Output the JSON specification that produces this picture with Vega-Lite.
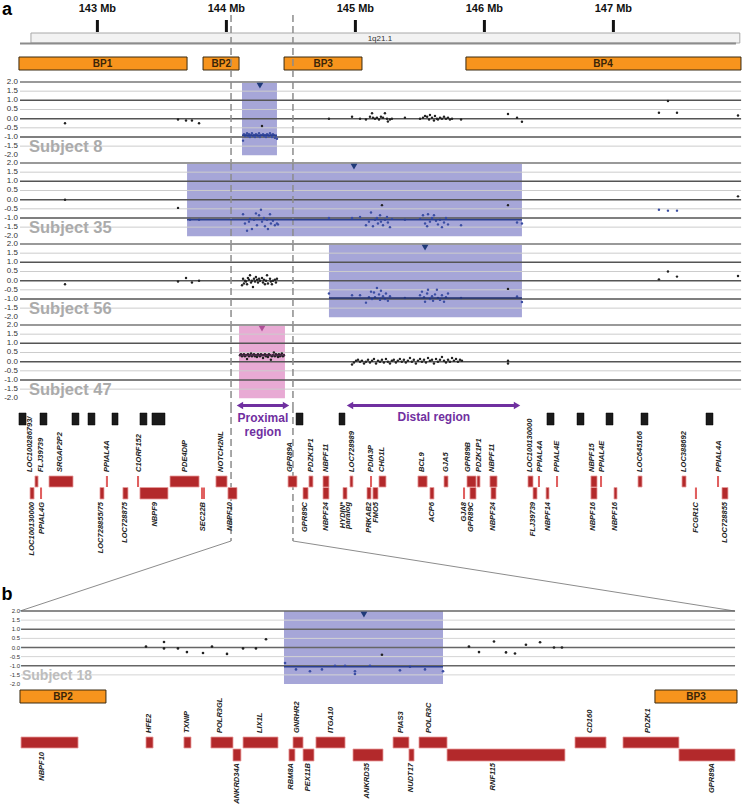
{
"$schema":"https://vega.github.io/schema/vega-lite/v6.json",
"padding":0,"spacing":0,"bounds":"flush","background":"white",
"config":{"view":{"stroke":null},"text":{"font":"Liberation Sans"}},
"resolve":{"scale":{"x":"independent","y":"independent"}},
"datasets":{
"grid":[{"v":2,"k":"top"},{"v":1.5,"k":"minor"},{"v":1,"k":"major"},{"v":0.5,"k":"minor"},{"v":0,"k":"major"},{"v":-0.5,"k":"minor"},{"v":-1,"k":"major"},{"v":-1.5,"k":"minor"}],
"ylabs":[{"v":2,"t":"2.0"},{"v":1.5,"t":"1.5"},{"v":1,"t":"1.0"},{"v":0.5,"t":"0.5"},{"v":0,"t":"0.0"},{"v":-0.5,"t":"-0.5"},{"v":-1,"t":"-1.0"},{"v":-1.5,"t":"-1.5"},{"v":-2,"t":"-2.0"}],
"dash":[{"x":144.036},{"x":144.516}],
"segs":[{"s":"8","start":144.121,"end":144.392,"mean":-0.9,"tri":144.26},{"s":"35","start":143.695,"end":146.291,"mean":-1.1,"tri":144.989},{"s":"56","start":144.795,"end":146.291,"mean":-0.95,"tri":145.54},{"s":"47","start":144.098,"end":144.454,"mean":0.35,"tri":144.276},{"s":"18","start":144.216,"end":144.322,"mean":-1.05,"tri":144.2693}],
"pts":[
{"s":"8","x":142.749,"v":-0.25,"c":"n"},{"s":"8","x":143.625,"v":-0.05,"c":"n"},{"s":"8","x":143.687,"v":-0.1,"c":"n"},{"s":"8","x":143.733,"v":-0.1,"c":"n"},{"s":"8","x":143.788,"v":-0.25,"c":"n"},
{"s":"8","x":144.129,"v":-1.2,"c":"a"},{"s":"8","x":144.136,"v":-0.85,"c":"a"},{"s":"8","x":144.144,"v":-0.95,"c":"a"},{"s":"8","x":144.152,"v":-0.9,"c":"a"},{"s":"8","x":144.16,"v":-0.8,"c":"a"},{"s":"8","x":144.167,"v":-0.95,"c":"a"},{"s":"8","x":144.175,"v":-0.85,"c":"a"},{"s":"8","x":144.183,"v":-1.0,"c":"a"},{"s":"8","x":144.191,"v":-0.9,"c":"a"},{"s":"8","x":144.198,"v":-0.8,"c":"a"},{"s":"8","x":144.206,"v":-0.95,"c":"a"},{"s":"8","x":144.214,"v":-0.9,"c":"a"},{"s":"8","x":144.222,"v":-1.0,"c":"a"},{"s":"8","x":144.229,"v":-0.85,"c":"a"},{"s":"8","x":144.237,"v":-0.9,"c":"a"},{"s":"8","x":144.245,"v":-0.95,"c":"a"},{"s":"8","x":144.253,"v":-0.8,"c":"a"},{"s":"8","x":144.26,"v":-1.0,"c":"a"},{"s":"8","x":144.268,"v":-0.9,"c":"a"},{"s":"8","x":144.276,"v":-0.4,"c":"n"},{"s":"8","x":144.284,"v":-0.85,"c":"a"},{"s":"8","x":144.291,"v":-0.95,"c":"a"},{"s":"8","x":144.299,"v":-0.9,"c":"a"},{"s":"8","x":144.307,"v":-1.0,"c":"a"},{"s":"8","x":144.315,"v":-0.85,"c":"a"},{"s":"8","x":144.322,"v":-0.9,"c":"a"},{"s":"8","x":144.33,"v":-0.95,"c":"a"},{"s":"8","x":144.338,"v":-0.8,"c":"a"},{"s":"8","x":144.345,"v":-0.9,"c":"a"},{"s":"8","x":144.353,"v":-1.0,"c":"a"},{"s":"8","x":144.361,"v":-0.85,"c":"a"},{"s":"8","x":144.368,"v":-0.9,"c":"a"},{"s":"8","x":144.376,"v":-1.05,"c":"a"},{"s":"8","x":144.384,"v":-0.95,"c":"a"},{"s":"8","x":144.392,"v":-1.1,"c":"a"},
{"s":"8","x":144.795,"v":0.0,"c":"n"},{"s":"8","x":144.974,"v":0.1,"c":"n"},{"s":"8","x":145.036,"v":0.0,"c":"n"},{"s":"8","x":145.082,"v":-0.05,"c":"n"},{"s":"8","x":145.113,"v":0.1,"c":"n"},{"s":"8","x":145.129,"v":0.3,"c":"n"},{"s":"8","x":145.136,"v":0.05,"c":"n"},{"s":"8","x":145.152,"v":0.0,"c":"n"},{"s":"8","x":145.167,"v":0.05,"c":"n"},{"s":"8","x":145.183,"v":-0.05,"c":"n"},{"s":"8","x":145.198,"v":0.1,"c":"n"},{"s":"8","x":145.214,"v":0.05,"c":"n"},{"s":"8","x":145.229,"v":0.3,"c":"n"},{"s":"8","x":145.245,"v":0.0,"c":"n"},{"s":"8","x":145.252,"v":-0.15,"c":"n"},{"s":"8","x":145.268,"v":-0.05,"c":"n"},{"s":"8","x":145.283,"v":0.0,"c":"n"},{"s":"8","x":145.384,"v":0.05,"c":"n"},{"s":"8","x":145.501,"v":0.0,"c":"n"},{"s":"8","x":145.524,"v":0.05,"c":"n"},{"s":"8","x":145.54,"v":0.15,"c":"n"},{"s":"8","x":145.556,"v":0.1,"c":"n"},{"s":"8","x":145.571,"v":-0.05,"c":"n"},{"s":"8","x":145.578,"v":0.2,"c":"n"},{"s":"8","x":145.594,"v":0.05,"c":"n"},{"s":"8","x":145.609,"v":-0.1,"c":"n"},{"s":"8","x":145.617,"v":0.15,"c":"n"},{"s":"8","x":145.632,"v":0.0,"c":"n"},{"s":"8","x":145.64,"v":-0.05,"c":"n"},{"s":"8","x":145.656,"v":0.05,"c":"n"},{"s":"8","x":145.671,"v":0.0,"c":"n"},{"s":"8","x":145.687,"v":0.1,"c":"n"},{"s":"8","x":145.702,"v":0.0,"c":"n"},{"s":"8","x":145.718,"v":0.05,"c":"n"},{"s":"8","x":145.733,"v":-0.05,"c":"n"},{"s":"8","x":145.749,"v":0.0,"c":"n"},{"s":"8","x":145.819,"v":-0.05,"c":"n"},{"s":"8","x":146.183,"v":0.25,"c":"n"},{"s":"8","x":146.253,"v":0.05,"c":"n"},{"s":"8","x":146.291,"v":-0.17,"c":"n"},{"s":"8","x":147.353,"v":0.32,"c":"n"},{"s":"8","x":147.423,"v":0.96,"c":"n"},{"s":"8","x":147.493,"v":0.32,"c":"n"},{"s":"8","x":147.966,"v":0.17,"c":"n"},
{"s":"35","x":142.749,"v":0.0,"c":"n"},{"s":"35","x":143.625,"v":-0.45,"c":"n"},{"s":"35","x":143.718,"v":-1.1,"c":"a"},{"s":"35","x":143.788,"v":-1.1,"c":"a"},
{"s":"35","x":144.129,"v":-0.8,"c":"a"},{"s":"35","x":144.144,"v":-1.3,"c":"a"},{"s":"35","x":144.16,"v":-1.7,"c":"a"},{"s":"35","x":144.175,"v":-1.2,"c":"a"},{"s":"35","x":144.183,"v":-1.05,"c":"a"},{"s":"35","x":144.198,"v":-1.6,"c":"a"},{"s":"35","x":144.214,"v":-1.1,"c":"a"},{"s":"35","x":144.229,"v":-0.75,"c":"a"},{"s":"35","x":144.237,"v":-1.4,"c":"a"},{"s":"35","x":144.253,"v":-0.85,"c":"a"},{"s":"35","x":144.268,"v":-0.55,"c":"a"},{"s":"35","x":144.276,"v":-1.2,"c":"a"},{"s":"35","x":144.291,"v":-1.0,"c":"a"},{"s":"35","x":144.299,"v":-1.45,"c":"a"},{"s":"35","x":144.315,"v":-1.1,"c":"a"},{"s":"35","x":144.322,"v":-1.6,"c":"a"},{"s":"35","x":144.338,"v":-0.8,"c":"a"},{"s":"35","x":144.345,"v":-1.3,"c":"a"},{"s":"35","x":144.361,"v":-1.15,"c":"a"},{"s":"35","x":144.376,"v":-1.4,"c":"a"},{"s":"35","x":144.392,"v":-1.3,"c":"a"},{"s":"35","x":144.4,"v":-1.35,"c":"a"},
{"s":"35","x":144.795,"v":-1.0,"c":"a"},{"s":"35","x":144.974,"v":-1.0,"c":"a"},{"s":"35","x":145.036,"v":-0.95,"c":"a"},{"s":"35","x":145.082,"v":-1.4,"c":"a"},{"s":"35","x":145.105,"v":-1.2,"c":"a"},{"s":"35","x":145.121,"v":-0.7,"c":"a"},{"s":"35","x":145.136,"v":-1.45,"c":"a"},{"s":"35","x":145.152,"v":-1.1,"c":"a"},{"s":"35","x":145.167,"v":-1.0,"c":"a"},{"s":"35","x":145.175,"v":-1.3,"c":"a"},{"s":"35","x":145.191,"v":-0.85,"c":"a"},{"s":"35","x":145.198,"v":-1.2,"c":"a"},{"s":"35","x":145.206,"v":-0.3,"c":"n"},{"s":"35","x":145.214,"v":-1.4,"c":"a"},{"s":"35","x":145.229,"v":-1.1,"c":"a"},{"s":"35","x":145.245,"v":-0.95,"c":"a"},{"s":"35","x":145.252,"v":-1.25,"c":"a"},{"s":"35","x":145.268,"v":-1.5,"c":"a"},{"s":"35","x":145.283,"v":-1.05,"c":"a"},{"s":"35","x":145.384,"v":-1.1,"c":"a"},{"s":"35","x":145.501,"v":-1.05,"c":"a"},{"s":"35","x":145.524,"v":-0.85,"c":"a"},{"s":"35","x":145.54,"v":-1.3,"c":"a"},{"s":"35","x":145.556,"v":-1.45,"c":"a"},{"s":"35","x":145.563,"v":-0.8,"c":"a"},{"s":"35","x":145.578,"v":-1.2,"c":"a"},{"s":"35","x":145.594,"v":-1.0,"c":"a"},{"s":"35","x":145.609,"v":-0.85,"c":"a"},{"s":"35","x":145.625,"v":-1.15,"c":"a"},{"s":"35","x":145.64,"v":-1.35,"c":"a"},{"s":"35","x":145.656,"v":-1.1,"c":"a"},{"s":"35","x":145.671,"v":-1.5,"c":"a"},{"s":"35","x":145.687,"v":-1.25,"c":"a"},{"s":"35","x":145.702,"v":-1.0,"c":"a"},{"s":"35","x":145.718,"v":-1.35,"c":"a"},{"s":"35","x":145.819,"v":-1.4,"c":"a"},{"s":"35","x":146.183,"v":-0.3,"c":"n"},{"s":"35","x":146.253,"v":-1.25,"c":"a"},{"s":"35","x":146.291,"v":-1.3,"c":"a"},{"s":"35","x":147.353,"v":-0.55,"c":"a"},{"s":"35","x":147.423,"v":-0.6,"c":"a"},{"s":"35","x":147.493,"v":-0.6,"c":"a"},{"s":"35","x":147.966,"v":0.18,"c":"n"},
{"s":"56","x":142.749,"v":-0.2,"c":"n"},{"s":"56","x":143.625,"v":-0.05,"c":"n"},{"s":"56","x":143.687,"v":0.15,"c":"n"},{"s":"56","x":143.733,"v":-0.1,"c":"n"},{"s":"56","x":143.788,"v":0.0,"c":"n"},
{"s":"56","x":144.121,"v":-0.25,"c":"n"},{"s":"56","x":144.129,"v":0.1,"c":"n"},{"s":"56","x":144.136,"v":-0.15,"c":"n"},{"s":"56","x":144.144,"v":0.0,"c":"n"},{"s":"56","x":144.152,"v":-0.05,"c":"n"},{"s":"56","x":144.16,"v":-0.2,"c":"n"},{"s":"56","x":144.167,"v":0.15,"c":"n"},{"s":"56","x":144.175,"v":0.05,"c":"n"},{"s":"56","x":144.183,"v":0.3,"c":"n"},{"s":"56","x":144.191,"v":-0.1,"c":"n"},{"s":"56","x":144.198,"v":0.0,"c":"n"},{"s":"56","x":144.206,"v":-0.35,"c":"n"},{"s":"56","x":144.214,"v":0.1,"c":"n"},{"s":"56","x":144.222,"v":-0.05,"c":"n"},{"s":"56","x":144.229,"v":0.2,"c":"n"},{"s":"56","x":144.237,"v":0.05,"c":"n"},{"s":"56","x":144.245,"v":-0.1,"c":"n"},{"s":"56","x":144.253,"v":0.1,"c":"n"},{"s":"56","x":144.26,"v":0.0,"c":"n"},{"s":"56","x":144.276,"v":0.15,"c":"n"},{"s":"56","x":144.284,"v":-0.1,"c":"n"},{"s":"56","x":144.291,"v":0.05,"c":"n"},{"s":"56","x":144.299,"v":-0.2,"c":"n"},{"s":"56","x":144.307,"v":0.0,"c":"n"},{"s":"56","x":144.315,"v":0.3,"c":"n"},{"s":"56","x":144.322,"v":-0.15,"c":"n"},{"s":"56","x":144.338,"v":0.1,"c":"n"},{"s":"56","x":144.345,"v":-0.05,"c":"n"},{"s":"56","x":144.353,"v":-0.2,"c":"n"},{"s":"56","x":144.361,"v":0.0,"c":"n"},{"s":"56","x":144.376,"v":0.05,"c":"n"},{"s":"56","x":144.384,"v":-0.1,"c":"n"},{"s":"56","x":144.392,"v":0.1,"c":"n"},
{"s":"56","x":144.795,"v":-0.7,"c":"a"},{"s":"56","x":144.974,"v":-0.8,"c":"a"},{"s":"56","x":145.036,"v":-0.8,"c":"a"},{"s":"56","x":145.082,"v":-1.2,"c":"a"},{"s":"56","x":145.105,"v":-0.9,"c":"a"},{"s":"56","x":145.121,"v":-0.6,"c":"a"},{"s":"56","x":145.129,"v":-1.0,"c":"a"},{"s":"56","x":145.144,"v":-0.65,"c":"a"},{"s":"56","x":145.152,"v":-0.9,"c":"a"},{"s":"56","x":145.167,"v":-0.4,"c":"a"},{"s":"56","x":145.183,"v":-0.75,"c":"a"},{"s":"56","x":145.191,"v":-1.05,"c":"a"},{"s":"56","x":145.198,"v":-0.55,"c":"a"},{"s":"56","x":145.214,"v":-0.85,"c":"a"},{"s":"56","x":145.229,"v":-1.0,"c":"a"},{"s":"56","x":145.237,"v":-0.7,"c":"a"},{"s":"56","x":145.252,"v":-1.1,"c":"a"},{"s":"56","x":145.268,"v":-0.85,"c":"a"},{"s":"56","x":145.384,"v":-0.95,"c":"a"},{"s":"56","x":145.501,"v":-0.8,"c":"a"},{"s":"56","x":145.516,"v":-0.6,"c":"a"},{"s":"56","x":145.532,"v":-0.9,"c":"a"},{"s":"56","x":145.54,"v":-1.15,"c":"a"},{"s":"56","x":145.556,"v":-0.7,"c":"a"},{"s":"56","x":145.563,"v":-0.5,"c":"a"},{"s":"56","x":145.578,"v":-1.0,"c":"a"},{"s":"56","x":145.594,"v":-0.85,"c":"a"},{"s":"56","x":145.602,"v":-1.1,"c":"a"},{"s":"56","x":145.617,"v":-0.75,"c":"a"},{"s":"56","x":145.632,"v":-0.5,"c":"a"},{"s":"56","x":145.64,"v":-0.95,"c":"a"},{"s":"56","x":145.656,"v":-1.05,"c":"a"},{"s":"56","x":145.671,"v":-0.8,"c":"a"},{"s":"56","x":145.687,"v":-1.15,"c":"a"},{"s":"56","x":145.702,"v":-0.9,"c":"a"},{"s":"56","x":145.718,"v":-0.7,"c":"a"},{"s":"56","x":145.819,"v":-0.95,"c":"a"},{"s":"56","x":146.183,"v":-0.45,"c":"n"},{"s":"56","x":146.253,"v":-0.87,"c":"a"},{"s":"56","x":146.291,"v":-1.17,"c":"a"},{"s":"56","x":147.353,"v":0.07,"c":"n"},{"s":"56","x":147.423,"v":0.5,"c":"n"},{"s":"56","x":147.493,"v":0.22,"c":"n"},{"s":"56","x":147.966,"v":0.25,"c":"n"},
{"s":"47","x":144.105,"v":0.35,"c":"n"},{"s":"47","x":144.113,"v":0.4,"c":"n"},{"s":"47","x":144.121,"v":0.3,"c":"n"},{"s":"47","x":144.129,"v":0.35,"c":"n"},{"s":"47","x":144.136,"v":0.4,"c":"n"},{"s":"47","x":144.144,"v":0.3,"c":"n"},{"s":"47","x":144.152,"v":0.35,"c":"n"},{"s":"47","x":144.16,"v":0.15,"c":"n"},{"s":"47","x":144.167,"v":0.4,"c":"n"},{"s":"47","x":144.175,"v":0.3,"c":"n"},{"s":"47","x":144.183,"v":0.35,"c":"n"},{"s":"47","x":144.191,"v":0.45,"c":"n"},{"s":"47","x":144.198,"v":0.3,"c":"n"},{"s":"47","x":144.206,"v":0.35,"c":"n"},{"s":"47","x":144.214,"v":0.4,"c":"n"},{"s":"47","x":144.222,"v":0.3,"c":"n"},{"s":"47","x":144.229,"v":0.35,"c":"n"},{"s":"47","x":144.237,"v":0.25,"c":"n"},{"s":"47","x":144.245,"v":0.4,"c":"n"},{"s":"47","x":144.253,"v":0.35,"c":"n"},{"s":"47","x":144.26,"v":0.3,"c":"n"},{"s":"47","x":144.268,"v":0.4,"c":"n"},{"s":"47","x":144.276,"v":0.35,"c":"n"},{"s":"47","x":144.284,"v":0.2,"c":"n"},{"s":"47","x":144.291,"v":0.35,"c":"n"},{"s":"47","x":144.299,"v":0.4,"c":"n"},{"s":"47","x":144.307,"v":0.3,"c":"n"},{"s":"47","x":144.315,"v":0.35,"c":"n"},{"s":"47","x":144.322,"v":0.25,"c":"n"},{"s":"47","x":144.33,"v":0.4,"c":"n"},{"s":"47","x":144.338,"v":0.35,"c":"n"},{"s":"47","x":144.345,"v":0.1,"c":"n"},{"s":"47","x":144.353,"v":0.3,"c":"n"},{"s":"47","x":144.361,"v":0.35,"c":"n"},{"s":"47","x":144.368,"v":0.5,"c":"n"},{"s":"47","x":144.376,"v":0.3,"c":"n"},{"s":"47","x":144.384,"v":0.4,"c":"n"},{"s":"47","x":144.392,"v":0.35,"c":"n"},{"s":"47","x":144.4,"v":0.25,"c":"n"},{"s":"47","x":144.407,"v":0.4,"c":"n"},{"s":"47","x":144.415,"v":0.3,"c":"n"},{"s":"47","x":144.423,"v":0.35,"c":"n"},{"s":"47","x":144.43,"v":0.45,"c":"n"},{"s":"47","x":144.438,"v":0.3,"c":"n"},{"s":"47","x":144.446,"v":0.35,"c":"n"},
{"s":"47","x":144.974,"v":-0.15,"c":"n"},{"s":"47","x":144.989,"v":-0.05,"c":"n"},{"s":"47","x":145.005,"v":0.05,"c":"n"},{"s":"47","x":145.02,"v":0.1,"c":"n"},{"s":"47","x":145.036,"v":0.0,"c":"n"},{"s":"47","x":145.051,"v":0.05,"c":"n"},{"s":"47","x":145.067,"v":-0.1,"c":"n"},{"s":"47","x":145.082,"v":0.0,"c":"n"},{"s":"47","x":145.098,"v":0.1,"c":"n"},{"s":"47","x":145.113,"v":-0.05,"c":"n"},{"s":"47","x":145.129,"v":0.05,"c":"n"},{"s":"47","x":145.144,"v":0.15,"c":"n"},{"s":"47","x":145.16,"v":-0.1,"c":"n"},{"s":"47","x":145.175,"v":0.05,"c":"n"},{"s":"47","x":145.191,"v":0.0,"c":"n"},{"s":"47","x":145.206,"v":0.1,"c":"n"},{"s":"47","x":145.221,"v":-0.05,"c":"n"},{"s":"47","x":145.237,"v":0.15,"c":"n"},{"s":"47","x":145.252,"v":0.0,"c":"n"},{"s":"47","x":145.268,"v":-0.1,"c":"n"},{"s":"47","x":145.283,"v":0.05,"c":"n"},{"s":"47","x":145.298,"v":0.1,"c":"n"},{"s":"47","x":145.314,"v":-0.05,"c":"n"},{"s":"47","x":145.329,"v":0.05,"c":"n"},{"s":"47","x":145.345,"v":0.15,"c":"n"},{"s":"47","x":145.36,"v":0.0,"c":"n"},{"s":"47","x":145.376,"v":0.1,"c":"n"},{"s":"47","x":145.391,"v":-0.05,"c":"n"},{"s":"47","x":145.407,"v":0.05,"c":"n"},{"s":"47","x":145.423,"v":0.2,"c":"n"},{"s":"47","x":145.438,"v":0.0,"c":"n"},{"s":"47","x":145.453,"v":0.1,"c":"n"},{"s":"47","x":145.469,"v":-0.1,"c":"n"},{"s":"47","x":145.485,"v":0.05,"c":"n"},{"s":"47","x":145.501,"v":0.15,"c":"n"},{"s":"47","x":145.516,"v":0.0,"c":"n"},{"s":"47","x":145.532,"v":0.1,"c":"n"},{"s":"47","x":145.547,"v":-0.05,"c":"n"},{"s":"47","x":145.563,"v":0.2,"c":"n"},{"s":"47","x":145.578,"v":0.05,"c":"n"},{"s":"47","x":145.594,"v":0.1,"c":"n"},{"s":"47","x":145.609,"v":-0.1,"c":"n"},{"s":"47","x":145.625,"v":0.15,"c":"n"},{"s":"47","x":145.64,"v":0.0,"c":"n"},{"s":"47","x":145.656,"v":0.1,"c":"n"},{"s":"47","x":145.671,"v":0.25,"c":"n"},{"s":"47","x":145.687,"v":0.05,"c":"n"},{"s":"47","x":145.702,"v":-0.05,"c":"n"},{"s":"47","x":145.718,"v":0.1,"c":"n"},{"s":"47","x":145.733,"v":0.0,"c":"n"},{"s":"47","x":145.749,"v":0.2,"c":"n"},{"s":"47","x":145.764,"v":0.05,"c":"n"},{"s":"47","x":145.78,"v":0.15,"c":"n"},{"s":"47","x":145.795,"v":0.0,"c":"n"},{"s":"47","x":145.811,"v":0.1,"c":"n"},{"s":"47","x":145.826,"v":0.05,"c":"n"},{"s":"47","x":146.183,"v":0.05,"c":"n"},{"s":"47","x":146.183,"v":-0.1,"c":"n"},
{"s":"18","x":144.124,"v":0.05,"c":"n"},{"s":"18","x":144.136,"v":0.3,"c":"n"},{"s":"18","x":144.136,"v":-0.05,"c":"n"},{"s":"18","x":144.1453,"v":-0.05,"c":"n"},{"s":"18","x":144.1513,"v":-0.25,"c":"n"},{"s":"18","x":144.162,"v":-0.3,"c":"n"},{"s":"18","x":144.168,"v":0.05,"c":"n"},{"s":"18","x":144.178,"v":-0.35,"c":"n"},{"s":"18","x":144.1887,"v":-0.05,"c":"n"},{"s":"18","x":144.1973,"v":-0.05,"c":"n"},{"s":"18","x":144.204,"v":0.45,"c":"n"},
{"s":"18","x":144.2167,"v":-0.85,"c":"a"},{"s":"18","x":144.224,"v":-1.2,"c":"a"},{"s":"18","x":144.2333,"v":-1.3,"c":"a"},{"s":"18","x":144.2413,"v":-1.2,"c":"a"},{"s":"18","x":144.25,"v":-1.0,"c":"a"},{"s":"18","x":144.2567,"v":-1.0,"c":"a"},{"s":"18","x":144.2633,"v":-1.3,"c":"a"},{"s":"18","x":144.2633,"v":-1.45,"c":"a"},{"s":"18","x":144.2733,"v":-1.0,"c":"a"},{"s":"18","x":144.2813,"v":-0.4,"c":"n"},{"s":"18","x":144.2933,"v":-1.25,"c":"a"},{"s":"18","x":144.3,"v":-1.05,"c":"a"},{"s":"18","x":144.31,"v":-1.2,"c":"a"},{"s":"18","x":144.322,"v":-1.3,"c":"a"},
{"s":"18","x":144.3393,"v":0.05,"c":"n"},{"s":"18","x":144.346,"v":-0.25,"c":"n"},{"s":"18","x":144.356,"v":0.33,"c":"n"},{"s":"18","x":144.364,"v":-0.27,"c":"n"},{"s":"18","x":144.37,"v":-0.33,"c":"n"},{"s":"18","x":144.3773,"v":0.15,"c":"n"},{"s":"18","x":144.3867,"v":0.29,"c":"n"},{"s":"18","x":144.396,"v":0.0,"c":"n"},{"s":"18","x":144.4013,"v":0.0,"c":"n"}
],
"genes":[
{"label":"LOC100286793/","start":null,"end":null,"row":"t","lx":142.478,"side":"up","kind":"gene"},
{"label":"FLJ39739","start":142.516,"end":142.54,"row":"t","lx":142.563,"side":"up","kind":"gene"},
{"label":"SRGAP2P2","start":142.625,"end":142.811,"row":"t","lx":142.71,"side":"up","kind":"gene"},
{"label":"PPIAL4A","start":143.066,"end":143.082,"row":"t","lx":143.074,"side":"up","kind":"thin"},
{"label":"C1ORF152","start":143.307,"end":143.323,"row":"t","lx":143.322,"side":"up","kind":"thin"},
{"label":"PDE4DIP","start":143.563,"end":143.788,"row":"t","lx":143.679,"side":"up","kind":"gene"},
{"label":"NOTCH2NL","start":143.919,"end":144.005,"row":"t","lx":143.958,"side":"up","kind":"gene"},
{"label":"GPR89A","start":144.478,"end":144.547,"row":"t","lx":144.493,"side":"up","kind":"gene"},
{"label":"PDZK1P1","start":144.64,"end":144.671,"row":"t","lx":144.656,"side":"up","kind":"gene"},
{"label":"NBPF11","start":144.749,"end":144.795,"row":"t","lx":144.772,"side":"up","kind":"gene"},
{"label":"LOC728989","start":144.958,"end":144.981,"row":"t","lx":144.974,"side":"up","kind":"gene"},
{"label":"PDIA3P","start":145.113,"end":145.129,"row":"t","lx":145.121,"side":"up","kind":"thin"},
{"label":"CHD1L","start":145.183,"end":145.237,"row":"t","lx":145.206,"side":"up","kind":"gene"},
{"label":"BCL9","start":145.485,"end":145.556,"row":"t","lx":145.516,"side":"up","kind":"gene"},
{"label":"GJA5","start":145.687,"end":145.718,"row":"t","lx":145.702,"side":"up","kind":"gene"},
{"label":"GPR89B","start":145.865,"end":145.935,"row":"t","lx":145.873,"side":"up","kind":"gene"},
{"label":"PDZK1P1","start":145.943,"end":145.966,"row":"t","lx":145.958,"side":"up","kind":"gene"},
{"label":"NBPF11","start":146.043,"end":146.098,"row":"t","lx":146.059,"side":"up","kind":"gene"},
{"label":"LOC100130000","start":146.338,"end":146.377,"row":"t","lx":146.353,"side":"up","kind":"gene"},
{"label":"PPIAL4A","start":146.415,"end":146.431,"row":"t","lx":146.431,"side":"up","kind":"thin"},
{"label":"PPIAL4E","start":146.555,"end":146.571,"row":"t","lx":146.563,"side":"up","kind":"thin"},
{"label":"NBPF15","start":146.826,"end":146.873,"row":"t","lx":146.834,"side":"up","kind":"gene"},
{"label":"PPIAL4E","start":146.896,"end":146.912,"row":"t","lx":146.912,"side":"up","kind":"thin"},
{"label":"LOC645166","start":147.191,"end":147.222,"row":"t","lx":147.206,"side":"up","kind":"gene"},
{"label":"LOC388692","start":147.532,"end":147.563,"row":"t","lx":147.547,"side":"up","kind":"gene"},
{"label":"PPIAL4A","start":147.803,"end":147.819,"row":"t","lx":147.819,"side":"up","kind":"thin"},
{"label":"LOC100130000","start":142.478,"end":142.509,"row":"b","lx":142.493,"side":"down","kind":"gene"},
{"label":"PPIAL4G","start":142.555,"end":142.571,"row":"b","lx":142.571,"side":"down","kind":"thin"},
{"label":"LOC728855/75","start":143.02,"end":143.051,"row":"b","lx":143.028,"side":"down","kind":"gene"},
{"label":"LOC728875","start":143.198,"end":143.237,"row":"b","lx":143.214,"side":"down","kind":"gene"},
{"label":"NBPF9","start":143.33,"end":143.547,"row":"b","lx":143.447,"side":"down","kind":"gene"},
{"label":"SEC22B","start":143.803,"end":143.834,"row":"b","lx":143.819,"side":"down","kind":"thin"},
{"label":"NBPF10","start":144.012,"end":144.082,"row":"b","lx":144.028,"side":"down","kind":"gene"},
{"label":"GPR89C","start":144.594,"end":144.633,"row":"b","lx":144.609,"side":"down","kind":"gene"},
{"label":"NBPF24","start":144.749,"end":144.795,"row":"b","lx":144.772,"side":"down","kind":"gene"},
{"label":"HYDIN*","start":144.904,"end":144.935,"row":"b","lx":144.904,"side":"down","kind":"gene"},
{"label":"paralog","start":null,"end":null,"row":"b","lx":144.943,"side":"down","kind":"gene"},
{"label":"PRKAB2","start":145.09,"end":145.121,"row":"b","lx":145.105,"side":"down","kind":"gene"},
{"label":"FMO5","start":145.136,"end":145.175,"row":"b","lx":145.16,"side":"down","kind":"gene"},
{"label":"ACP6","start":145.578,"end":145.609,"row":"b","lx":145.594,"side":"down","kind":"gene"},
{"label":"GJA8","start":145.834,"end":145.85,"row":"b","lx":145.842,"side":"down","kind":"thin"},
{"label":"GPR89C","start":145.888,"end":145.935,"row":"b","lx":145.896,"side":"down","kind":"gene"},
{"label":"NBPF24","start":146.051,"end":146.09,"row":"b","lx":146.067,"side":"down","kind":"gene"},
{"label":"FLJ39739","start":146.377,"end":146.408,"row":"b","lx":146.377,"side":"down","kind":"gene"},
{"label":"NBPF14","start":146.478,"end":146.501,"row":"b","lx":146.493,"side":"down","kind":"gene"},
{"label":"NBPF16","start":146.826,"end":146.873,"row":"b","lx":146.842,"side":"down","kind":"gene"},
{"label":"NBPF16","start":147.005,"end":147.028,"row":"b","lx":147.012,"side":"down","kind":"gene"},
{"label":"FCGR1C","start":147.632,"end":147.648,"row":"b","lx":147.64,"side":"down","kind":"thin"},
{"label":"LOC728855","start":147.842,"end":147.888,"row":"b","lx":147.865,"side":"down","kind":"gene"}
],
"segdup":[{"start":142.392,"end":142.447},{"start":142.555,"end":142.609},{"start":142.803,"end":142.857},{"start":142.927,"end":142.981},{"start":143.113,"end":143.16},{"start":143.33,"end":143.384},{"start":143.423,"end":143.524},{"start":144.54,"end":144.594},{"start":144.873,"end":144.919},{"start":146.485,"end":146.54},{"start":146.718,"end":146.772},{"start":146.943,"end":146.997},{"start":147.214,"end":147.268},{"start":147.718,"end":147.772}],
"bgenes":[
{"label":"NBPF10","start":144.0407,"end":144.0787,"row":"t","lx":144.0547,"side":"down"},
{"label":"HFE2","start":144.124,"end":144.1287,"row":"t","lx":144.1263,"side":"up"},
{"label":"TXNIP","start":144.1493,"end":144.154,"row":"t","lx":144.1513,"side":"up"},
{"label":"POLR3GL","start":144.1673,"end":144.182,"row":"t","lx":144.1733,"side":"up"},
{"label":"LIX1L","start":144.1887,"end":144.212,"row":"t","lx":144.2,"side":"up"},
{"label":"GNRHR2","start":144.222,"end":144.2287,"row":"t","lx":144.2247,"side":"up"},
{"label":"ITGA10","start":144.2373,"end":144.2567,"row":"t","lx":144.2473,"side":"up"},
{"label":"PIAS3","start":144.2887,"end":144.2993,"row":"t","lx":144.294,"side":"up"},
{"label":"POLR3C","start":144.306,"end":144.3247,"row":"t","lx":144.3127,"side":"up"},
{"label":"CD160","start":144.41,"end":144.4307,"row":"t","lx":144.42,"side":"up"},
{"label":"PDZK1","start":144.442,"end":144.4793,"row":"t","lx":144.4587,"side":"up"},
{"label":"ANKRD34A","start":144.182,"end":144.1873,"row":"b","lx":144.1847,"side":"down"},
{"label":"RBM8A","start":144.2193,"end":144.2233,"row":"b","lx":144.2207,"side":"down"},
{"label":"PEX11B","start":144.2287,"end":144.236,"row":"b","lx":144.232,"side":"down"},
{"label":"ANKRD35","start":144.262,"end":144.282,"row":"b","lx":144.2713,"side":"down"},
{"label":"NUDT17","start":144.2993,"end":144.3027,"row":"b","lx":144.3007,"side":"down"},
{"label":"RNF115","start":144.3247,"end":144.4033,"row":"b","lx":144.3553,"side":"down"},
{"label":"GPR89A","start":144.4793,"end":144.5167,"row":"b","lx":144.5013,"side":"down"}
]
},
"vconcat":[
{"width":747,"height":82,
 "layer":[
  {"data":{"values":[{"mb":143,"t":"143 Mb"},{"mb":144,"t":"144 Mb"},{"mb":145,"t":"145 Mb"},{"mb":146,"t":"146 Mb"},{"mb":147,"t":"147 Mb"}]},
   "mark":{"type":"text","fontSize":11,"fontWeight":"bold","color":"#111","baseline":"middle"},
   "encoding":{"x":{"field":"mb","type":"quantitative","scale":{"domain":[142.245,148.0357],"nice":false,"zero":false},"axis":null},"y":{"datum":9,"type":"quantitative","scale":{"domain":[0,82],"reverse":true,"nice":false,"zero":false},"axis":null},"text":{"field":"t"}}},
  {"data":{"values":[{"mb":143},{"mb":144},{"mb":145},{"mb":146},{"mb":147}]},
   "mark":{"type":"rule","strokeWidth":3,"color":"#111"},
   "encoding":{"x":{"field":"mb","type":"quantitative","scale":{"domain":[142.245,148.0357],"nice":false,"zero":false},"axis":null},"y":{"datum":20,"type":"quantitative","scale":{"domain":[0,82],"reverse":true,"nice":false,"zero":false},"axis":null},"y2":{"datum":32}}},
  {"data":{"values":[{"start":142.485,"end":147.98}]},
   "mark":{"type":"rect","fill":"#f2f2f2","stroke":"#a8a8a8","strokeWidth":1},
   "encoding":{"x":{"field":"start","type":"quantitative","scale":{"domain":[142.245,148.0357],"nice":false,"zero":false},"axis":null},"x2":{"field":"end"},"y":{"datum":33,"type":"quantitative","scale":{"domain":[0,82],"reverse":true,"nice":false,"zero":false},"axis":null},"y2":{"datum":43}}},
  {"data":{"values":[{"start":142.4,"end":147.95}]},
   "mark":{"type":"rule","strokeWidth":2,"color":"#8c8c8c"},
   "encoding":{"x":{"field":"start","type":"quantitative","scale":{"domain":[142.245,148.0357],"nice":false,"zero":false},"axis":null},"x2":{"field":"end"},"y":{"datum":43.5,"type":"quantitative","scale":{"domain":[0,82],"reverse":true,"nice":false,"zero":false},"axis":null}}},
  {"data":{"values":[{}]},
   "mark":{"type":"text","text":"1q21.1","fontSize":8,"color":"#333","baseline":"middle"},
   "encoding":{"x":{"datum":145.19,"type":"quantitative","scale":{"domain":[142.245,148.0357],"nice":false,"zero":false},"axis":null},"y":{"datum":39,"type":"quantitative","scale":{"domain":[0,82],"reverse":true,"nice":false,"zero":false},"axis":null}}},
  {"data":{"values":[{"label":"BP1","start":142.392,"end":143.695,"mid":143.04},{"label":"BP2","start":143.819,"end":144.098,"mid":143.96},{"label":"BP3","start":144.447,"end":145.051,"mid":144.75},{"label":"BP4","start":145.857,"end":147.989,"mid":146.92}]},
   "layer":[
    {"mark":{"type":"rect","fill":"#f7941d","stroke":"#3a2a10","strokeWidth":1},
     "encoding":{"x":{"field":"start","type":"quantitative","scale":{"domain":[142.245,148.0357],"nice":false,"zero":false},"axis":null},"x2":{"field":"end"},"y":{"datum":57,"type":"quantitative","scale":{"domain":[0,82],"reverse":true,"nice":false,"zero":false},"axis":null},"y2":{"datum":70}}},
    {"mark":{"type":"text","fontSize":10,"fontWeight":"bold","color":"#3a2508","baseline":"middle"},
     "encoding":{"x":{"field":"mid","type":"quantitative","scale":{"domain":[142.245,148.0357],"nice":false,"zero":false},"axis":null},"y":{"datum":63.5,"type":"quantitative","scale":{"domain":[0,82],"reverse":true,"nice":false,"zero":false},"axis":null},"text":{"field":"label"}}}
   ]},
  {"data":{"name":"dash"},
   "mark":{"type":"rule","color":"#8c8c8c","strokeDash":[7,4],"strokeWidth":1.5},
   "encoding":{"x":{"field":"x","type":"quantitative","scale":{"domain":[142.245,148.0357],"nice":false,"zero":false},"axis":null},"y":{"datum":15,"type":"quantitative","scale":{"domain":[0,82],"reverse":true,"nice":false,"zero":false},"axis":null},"y2":{"datum":82}}},
  {"data":{"values":[{}]},
   "mark":{"type":"text","text":"a","fontSize":18,"fontWeight":"bold","color":"#000","baseline":"middle"},
   "encoding":{"x":{"datum":142.3,"type":"quantitative","scale":{"domain":[142.245,148.0357],"nice":false,"zero":false},"axis":null},"y":{"datum":10,"type":"quantitative","scale":{"domain":[0,82],"reverse":true,"nice":false,"zero":false},"axis":null}}}
 ]},
{"width":747,"height":81,
 "layer":[
  {"data":{"name":"segs"},"transform":[{"filter":"datum.s==='8'"}],"mark":{"type":"rect","color":"#a6a6d8","opacity":1},
   "encoding":{"x":{"field":"start","type":"quantitative","scale":{"domain":[142.245,148.0357],"nice":false,"zero":false},"axis":null},"x2":{"field":"end"},"y":{"datum":2,"type":"quantitative","scale":{"domain":[-2.42,2],"nice":false,"zero":false},"axis":null},"y2":{"datum":-2}}},
  {"data":{"name":"grid"},"transform":[{"filter":"datum.k==='minor'"}],"mark":{"type":"rule","color":"#cccccc","strokeWidth":1},
   "encoding":{"x":{"datum":142.4,"type":"quantitative","scale":{"domain":[142.245,148.0357],"nice":false,"zero":false},"axis":null},"x2":{"datum":147.99},"y":{"field":"v","type":"quantitative","scale":{"domain":[-2.42,2],"nice":false,"zero":false},"axis":null}}},
  {"data":{"name":"grid"},"transform":[{"filter":"datum.k==='major'"}],"mark":{"type":"rule","color":"#555555","strokeWidth":1.5},
   "encoding":{"x":{"datum":142.4,"type":"quantitative","scale":{"domain":[142.245,148.0357],"nice":false,"zero":false},"axis":null},"x2":{"datum":147.99},"y":{"field":"v","type":"quantitative","scale":{"domain":[-2.42,2],"nice":false,"zero":false},"axis":null}}},
  {"data":{"name":"grid"},"transform":[{"filter":"datum.k==='top'"}],"mark":{"type":"rule","color":"#999999","strokeWidth":2},
   "encoding":{"x":{"datum":142.4,"type":"quantitative","scale":{"domain":[142.245,148.0357],"nice":false,"zero":false},"axis":null},"x2":{"datum":147.99},"y":{"field":"v","type":"quantitative","scale":{"domain":[-2.42,2],"nice":false,"zero":false},"axis":null}}},
  {"data":{"name":"ylabs"},"mark":{"type":"text","align":"right","baseline":"middle","fontSize":8,"color":"#333","dx":-2},
   "encoding":{"x":{"datum":142.4,"type":"quantitative","scale":{"domain":[142.245,148.0357],"nice":false,"zero":false},"axis":null},"y":{"field":"v","type":"quantitative","scale":{"domain":[-2.42,2],"nice":false,"zero":false},"axis":null},"text":{"field":"t"}}},
  {"data":{"name":"dash"},"mark":{"type":"rule","color":"#8c8c8c","strokeDash":[7,4],"strokeWidth":1.5},
   "encoding":{"x":{"field":"x","type":"quantitative","scale":{"domain":[142.245,148.0357],"nice":false,"zero":false},"axis":null}}},
  {"data":{"name":"pts"},"transform":[{"filter":"datum.s==='8' && datum.c==='n'"}],"mark":{"type":"point","filled":true,"size":6,"color":"#222","opacity":1},
   "encoding":{"x":{"field":"x","type":"quantitative","scale":{"domain":[142.245,148.0357],"nice":false,"zero":false},"axis":null},"y":{"field":"v","type":"quantitative","scale":{"domain":[-2.42,2],"nice":false,"zero":false},"axis":null}}},
  {"data":{"name":"pts"},"transform":[{"filter":"datum.s==='8' && datum.c==='a'"}],"mark":{"type":"point","filled":true,"size":6,"color":"#3b4ea3","opacity":1},
   "encoding":{"x":{"field":"x","type":"quantitative","scale":{"domain":[142.245,148.0357],"nice":false,"zero":false},"axis":null},"y":{"field":"v","type":"quantitative","scale":{"domain":[-2.42,2],"nice":false,"zero":false},"axis":null}}},
  {"data":{"name":"segs"},"transform":[{"filter":"datum.s==='8'"}],"mark":{"type":"rule","color":"#2a3f91","strokeWidth":1.5},
   "encoding":{"x":{"field":"start","type":"quantitative","scale":{"domain":[142.245,148.0357],"nice":false,"zero":false},"axis":null},"x2":{"field":"end"},"y":{"field":"mean","type":"quantitative","scale":{"domain":[-2.42,2],"nice":false,"zero":false},"axis":null}}},
  {"data":{"name":"segs"},"transform":[{"filter":"datum.s==='8'"}],"mark":{"type":"point","shape":"triangle-down","filled":true,"size":45,"color":"#1f3a7a","opacity":1},
   "encoding":{"x":{"field":"tri","type":"quantitative","scale":{"domain":[142.245,148.0357],"nice":false,"zero":false},"axis":null},"y":{"datum":1.8,"type":"quantitative","scale":{"domain":[-2.42,2],"nice":false,"zero":false},"axis":null}}},
  {"data":{"values":[{}]},"mark":{"type":"text","text":"Subject 8","align":"left","baseline":"middle","fontSize":16.5,"fontWeight":"bold","color":"#ababab"},
   "encoding":{"x":{"datum":142.47,"type":"quantitative","scale":{"domain":[142.245,148.0357],"nice":false,"zero":false},"axis":null},"y":{"datum":-1.55,"type":"quantitative","scale":{"domain":[-2.42,2],"nice":false,"zero":false},"axis":null}}}
 ]},
{"width":747,"height":81,
 "layer":[
  {"data":{"name":"segs"},"transform":[{"filter":"datum.s==='35'"}],"mark":{"type":"rect","color":"#a6a6d8","opacity":1},
   "encoding":{"x":{"field":"start","type":"quantitative","scale":{"domain":[142.245,148.0357],"nice":false,"zero":false},"axis":null},"x2":{"field":"end"},"y":{"datum":2,"type":"quantitative","scale":{"domain":[-2.42,2],"nice":false,"zero":false},"axis":null},"y2":{"datum":-2}}},
  {"data":{"name":"grid"},"transform":[{"filter":"datum.k==='minor'"}],"mark":{"type":"rule","color":"#cccccc","strokeWidth":1},
   "encoding":{"x":{"datum":142.4,"type":"quantitative","scale":{"domain":[142.245,148.0357],"nice":false,"zero":false},"axis":null},"x2":{"datum":147.99},"y":{"field":"v","type":"quantitative","scale":{"domain":[-2.42,2],"nice":false,"zero":false},"axis":null}}},
  {"data":{"name":"grid"},"transform":[{"filter":"datum.k==='major'"}],"mark":{"type":"rule","color":"#555555","strokeWidth":1.5},
   "encoding":{"x":{"datum":142.4,"type":"quantitative","scale":{"domain":[142.245,148.0357],"nice":false,"zero":false},"axis":null},"x2":{"datum":147.99},"y":{"field":"v","type":"quantitative","scale":{"domain":[-2.42,2],"nice":false,"zero":false},"axis":null}}},
  {"data":{"name":"grid"},"transform":[{"filter":"datum.k==='top'"}],"mark":{"type":"rule","color":"#999999","strokeWidth":2},
   "encoding":{"x":{"datum":142.4,"type":"quantitative","scale":{"domain":[142.245,148.0357],"nice":false,"zero":false},"axis":null},"x2":{"datum":147.99},"y":{"field":"v","type":"quantitative","scale":{"domain":[-2.42,2],"nice":false,"zero":false},"axis":null}}},
  {"data":{"name":"ylabs"},"mark":{"type":"text","align":"right","baseline":"middle","fontSize":8,"color":"#333","dx":-2},
   "encoding":{"x":{"datum":142.4,"type":"quantitative","scale":{"domain":[142.245,148.0357],"nice":false,"zero":false},"axis":null},"y":{"field":"v","type":"quantitative","scale":{"domain":[-2.42,2],"nice":false,"zero":false},"axis":null},"text":{"field":"t"}}},
  {"data":{"name":"dash"},"mark":{"type":"rule","color":"#8c8c8c","strokeDash":[7,4],"strokeWidth":1.5},
   "encoding":{"x":{"field":"x","type":"quantitative","scale":{"domain":[142.245,148.0357],"nice":false,"zero":false},"axis":null}}},
  {"data":{"name":"pts"},"transform":[{"filter":"datum.s==='35' && datum.c==='n'"}],"mark":{"type":"point","filled":true,"size":6,"color":"#222","opacity":1},
   "encoding":{"x":{"field":"x","type":"quantitative","scale":{"domain":[142.245,148.0357],"nice":false,"zero":false},"axis":null},"y":{"field":"v","type":"quantitative","scale":{"domain":[-2.42,2],"nice":false,"zero":false},"axis":null}}},
  {"data":{"name":"pts"},"transform":[{"filter":"datum.s==='35' && datum.c==='a'"}],"mark":{"type":"point","filled":true,"size":6,"color":"#3b4ea3","opacity":1},
   "encoding":{"x":{"field":"x","type":"quantitative","scale":{"domain":[142.245,148.0357],"nice":false,"zero":false},"axis":null},"y":{"field":"v","type":"quantitative","scale":{"domain":[-2.42,2],"nice":false,"zero":false},"axis":null}}},
  {"data":{"name":"segs"},"transform":[{"filter":"datum.s==='35'"}],"mark":{"type":"rule","color":"#2a3f91","strokeWidth":1.5},
   "encoding":{"x":{"field":"start","type":"quantitative","scale":{"domain":[142.245,148.0357],"nice":false,"zero":false},"axis":null},"x2":{"field":"end"},"y":{"field":"mean","type":"quantitative","scale":{"domain":[-2.42,2],"nice":false,"zero":false},"axis":null}}},
  {"data":{"name":"segs"},"transform":[{"filter":"datum.s==='35'"}],"mark":{"type":"point","shape":"triangle-down","filled":true,"size":45,"color":"#1f3a7a","opacity":1},
   "encoding":{"x":{"field":"tri","type":"quantitative","scale":{"domain":[142.245,148.0357],"nice":false,"zero":false},"axis":null},"y":{"datum":1.8,"type":"quantitative","scale":{"domain":[-2.42,2],"nice":false,"zero":false},"axis":null}}},
  {"data":{"values":[{}]},"mark":{"type":"text","text":"Subject 35","align":"left","baseline":"middle","fontSize":16.5,"fontWeight":"bold","color":"#ababab"},
   "encoding":{"x":{"datum":142.47,"type":"quantitative","scale":{"domain":[142.245,148.0357],"nice":false,"zero":false},"axis":null},"y":{"datum":-1.55,"type":"quantitative","scale":{"domain":[-2.42,2],"nice":false,"zero":false},"axis":null}}}
 ]},
{"width":747,"height":81,
 "layer":[
  {"data":{"name":"segs"},"transform":[{"filter":"datum.s==='56'"}],"mark":{"type":"rect","color":"#a6a6d8","opacity":1},
   "encoding":{"x":{"field":"start","type":"quantitative","scale":{"domain":[142.245,148.0357],"nice":false,"zero":false},"axis":null},"x2":{"field":"end"},"y":{"datum":2,"type":"quantitative","scale":{"domain":[-2.42,2],"nice":false,"zero":false},"axis":null},"y2":{"datum":-2}}},
  {"data":{"name":"grid"},"transform":[{"filter":"datum.k==='minor'"}],"mark":{"type":"rule","color":"#cccccc","strokeWidth":1},
   "encoding":{"x":{"datum":142.4,"type":"quantitative","scale":{"domain":[142.245,148.0357],"nice":false,"zero":false},"axis":null},"x2":{"datum":147.99},"y":{"field":"v","type":"quantitative","scale":{"domain":[-2.42,2],"nice":false,"zero":false},"axis":null}}},
  {"data":{"name":"grid"},"transform":[{"filter":"datum.k==='major'"}],"mark":{"type":"rule","color":"#555555","strokeWidth":1.5},
   "encoding":{"x":{"datum":142.4,"type":"quantitative","scale":{"domain":[142.245,148.0357],"nice":false,"zero":false},"axis":null},"x2":{"datum":147.99},"y":{"field":"v","type":"quantitative","scale":{"domain":[-2.42,2],"nice":false,"zero":false},"axis":null}}},
  {"data":{"name":"grid"},"transform":[{"filter":"datum.k==='top'"}],"mark":{"type":"rule","color":"#999999","strokeWidth":2},
   "encoding":{"x":{"datum":142.4,"type":"quantitative","scale":{"domain":[142.245,148.0357],"nice":false,"zero":false},"axis":null},"x2":{"datum":147.99},"y":{"field":"v","type":"quantitative","scale":{"domain":[-2.42,2],"nice":false,"zero":false},"axis":null}}},
  {"data":{"name":"ylabs"},"mark":{"type":"text","align":"right","baseline":"middle","fontSize":8,"color":"#333","dx":-2},
   "encoding":{"x":{"datum":142.4,"type":"quantitative","scale":{"domain":[142.245,148.0357],"nice":false,"zero":false},"axis":null},"y":{"field":"v","type":"quantitative","scale":{"domain":[-2.42,2],"nice":false,"zero":false},"axis":null},"text":{"field":"t"}}},
  {"data":{"name":"dash"},"mark":{"type":"rule","color":"#8c8c8c","strokeDash":[7,4],"strokeWidth":1.5},
   "encoding":{"x":{"field":"x","type":"quantitative","scale":{"domain":[142.245,148.0357],"nice":false,"zero":false},"axis":null}}},
  {"data":{"name":"pts"},"transform":[{"filter":"datum.s==='56' && datum.c==='n'"}],"mark":{"type":"point","filled":true,"size":6,"color":"#222","opacity":1},
   "encoding":{"x":{"field":"x","type":"quantitative","scale":{"domain":[142.245,148.0357],"nice":false,"zero":false},"axis":null},"y":{"field":"v","type":"quantitative","scale":{"domain":[-2.42,2],"nice":false,"zero":false},"axis":null}}},
  {"data":{"name":"pts"},"transform":[{"filter":"datum.s==='56' && datum.c==='a'"}],"mark":{"type":"point","filled":true,"size":6,"color":"#3b4ea3","opacity":1},
   "encoding":{"x":{"field":"x","type":"quantitative","scale":{"domain":[142.245,148.0357],"nice":false,"zero":false},"axis":null},"y":{"field":"v","type":"quantitative","scale":{"domain":[-2.42,2],"nice":false,"zero":false},"axis":null}}},
  {"data":{"name":"segs"},"transform":[{"filter":"datum.s==='56'"}],"mark":{"type":"rule","color":"#1f2f70","strokeWidth":1.5},
   "encoding":{"x":{"field":"start","type":"quantitative","scale":{"domain":[142.245,148.0357],"nice":false,"zero":false},"axis":null},"x2":{"field":"end"},"y":{"field":"mean","type":"quantitative","scale":{"domain":[-2.42,2],"nice":false,"zero":false},"axis":null}}},
  {"data":{"name":"segs"},"transform":[{"filter":"datum.s==='56'"}],"mark":{"type":"point","shape":"triangle-down","filled":true,"size":45,"color":"#1f3a7a","opacity":1},
   "encoding":{"x":{"field":"tri","type":"quantitative","scale":{"domain":[142.245,148.0357],"nice":false,"zero":false},"axis":null},"y":{"datum":1.8,"type":"quantitative","scale":{"domain":[-2.42,2],"nice":false,"zero":false},"axis":null}}},
  {"data":{"values":[{}]},"mark":{"type":"text","text":"Subject 56","align":"left","baseline":"middle","fontSize":16.5,"fontWeight":"bold","color":"#ababab"},
   "encoding":{"x":{"datum":142.47,"type":"quantitative","scale":{"domain":[142.245,148.0357],"nice":false,"zero":false},"axis":null},"y":{"datum":-1.55,"type":"quantitative","scale":{"domain":[-2.42,2],"nice":false,"zero":false},"axis":null}}}
 ]},
{"width":747,"height":81,
 "layer":[
  {"data":{"name":"segs"},"transform":[{"filter":"datum.s==='47'"}],"mark":{"type":"rect","color":"#e8aad4","opacity":1},
   "encoding":{"x":{"field":"start","type":"quantitative","scale":{"domain":[142.245,148.0357],"nice":false,"zero":false},"axis":null},"x2":{"field":"end"},"y":{"datum":2,"type":"quantitative","scale":{"domain":[-2.42,2],"nice":false,"zero":false},"axis":null},"y2":{"datum":-2}}},
  {"data":{"name":"grid"},"transform":[{"filter":"datum.k==='minor'"}],"mark":{"type":"rule","color":"#cccccc","strokeWidth":1},
   "encoding":{"x":{"datum":142.4,"type":"quantitative","scale":{"domain":[142.245,148.0357],"nice":false,"zero":false},"axis":null},"x2":{"datum":147.99},"y":{"field":"v","type":"quantitative","scale":{"domain":[-2.42,2],"nice":false,"zero":false},"axis":null}}},
  {"data":{"name":"grid"},"transform":[{"filter":"datum.k==='major'"}],"mark":{"type":"rule","color":"#555555","strokeWidth":1.5},
   "encoding":{"x":{"datum":142.4,"type":"quantitative","scale":{"domain":[142.245,148.0357],"nice":false,"zero":false},"axis":null},"x2":{"datum":147.99},"y":{"field":"v","type":"quantitative","scale":{"domain":[-2.42,2],"nice":false,"zero":false},"axis":null}}},
  {"data":{"name":"grid"},"transform":[{"filter":"datum.k==='top'"}],"mark":{"type":"rule","color":"#999999","strokeWidth":2},
   "encoding":{"x":{"datum":142.4,"type":"quantitative","scale":{"domain":[142.245,148.0357],"nice":false,"zero":false},"axis":null},"x2":{"datum":147.99},"y":{"field":"v","type":"quantitative","scale":{"domain":[-2.42,2],"nice":false,"zero":false},"axis":null}}},
  {"data":{"name":"ylabs"},"mark":{"type":"text","align":"right","baseline":"middle","fontSize":8,"color":"#333","dx":-2},
   "encoding":{"x":{"datum":142.4,"type":"quantitative","scale":{"domain":[142.245,148.0357],"nice":false,"zero":false},"axis":null},"y":{"field":"v","type":"quantitative","scale":{"domain":[-2.42,2],"nice":false,"zero":false},"axis":null},"text":{"field":"t"}}},
  {"data":{"name":"dash"},"mark":{"type":"rule","color":"#8c8c8c","strokeDash":[7,4],"strokeWidth":1.5},
   "encoding":{"x":{"field":"x","type":"quantitative","scale":{"domain":[142.245,148.0357],"nice":false,"zero":false},"axis":null}}},
  {"data":{"name":"pts"},"transform":[{"filter":"datum.s==='47'"}],"mark":{"type":"point","filled":true,"size":6,"color":"#222","opacity":1},
   "encoding":{"x":{"field":"x","type":"quantitative","scale":{"domain":[142.245,148.0357],"nice":false,"zero":false},"axis":null},"y":{"field":"v","type":"quantitative","scale":{"domain":[-2.42,2],"nice":false,"zero":false},"axis":null}}},
  {"data":{"name":"segs"},"transform":[{"filter":"datum.s==='47'"}],"mark":{"type":"rule","color":"#4a2848","strokeWidth":1.5},
   "encoding":{"x":{"field":"start","type":"quantitative","scale":{"domain":[142.245,148.0357],"nice":false,"zero":false},"axis":null},"x2":{"field":"end"},"y":{"field":"mean","type":"quantitative","scale":{"domain":[-2.42,2],"nice":false,"zero":false},"axis":null}}},
  {"data":{"name":"segs"},"transform":[{"filter":"datum.s==='47'"}],"mark":{"type":"point","shape":"triangle-down","filled":true,"size":45,"color":"#b04f98","opacity":1},
   "encoding":{"x":{"field":"tri","type":"quantitative","scale":{"domain":[142.245,148.0357],"nice":false,"zero":false},"axis":null},"y":{"datum":1.8,"type":"quantitative","scale":{"domain":[-2.42,2],"nice":false,"zero":false},"axis":null}}},
  {"data":{"values":[{}]},"mark":{"type":"text","text":"Subject 47","align":"left","baseline":"middle","fontSize":16.5,"fontWeight":"bold","color":"#ababab"},
   "encoding":{"x":{"datum":142.47,"type":"quantitative","scale":{"domain":[142.245,148.0357],"nice":false,"zero":false},"axis":null},"y":{"datum":-1.55,"type":"quantitative","scale":{"domain":[-2.42,2],"nice":false,"zero":false},"axis":null}}}
 ]},
{"width":747,"height":135,
 "layer":[
  {"data":{"name":"dash"},"mark":{"type":"rule","color":"#8c8c8c","strokeDash":[7,4],"strokeWidth":1.5},
   "encoding":{"x":{"field":"x","type":"quantitative","scale":{"domain":[142.245,148.0357],"nice":false,"zero":false},"axis":null}}},
  {"data":{"values":[{"start":144.105,"end":144.462},{"start":144.958,"end":146.253}]},
   "layer":[
    {"mark":{"type":"rule","color":"#7030a0","strokeWidth":3},
     "encoding":{"x":{"field":"start","type":"quantitative","scale":{"domain":[142.245,148.0357],"nice":false,"zero":false},"axis":null},"x2":{"field":"end"},"y":{"datum":-0.5,"type":"quantitative","scale":{"domain":[0,135],"reverse":true,"nice":false,"zero":false},"axis":null}}},
    {"mark":{"type":"point","shape":"triangle-left","filled":true,"size":55,"color":"#7030a0","opacity":1},
     "encoding":{"x":{"field":"start","type":"quantitative","scale":{"domain":[142.245,148.0357],"nice":false,"zero":false},"axis":null},"y":{"datum":-0.5,"type":"quantitative","scale":{"domain":[0,135],"reverse":true,"nice":false,"zero":false},"axis":null}}},
    {"mark":{"type":"point","shape":"triangle-right","filled":true,"size":55,"color":"#7030a0","opacity":1},
     "encoding":{"x":{"field":"end","type":"quantitative","scale":{"domain":[142.245,148.0357],"nice":false,"zero":false},"axis":null},"y":{"datum":-0.5,"type":"quantitative","scale":{"domain":[0,135],"reverse":true,"nice":false,"zero":false},"axis":null}}}
   ]},
  {"data":{"values":[{"t":"Proximal","x":144.283,"y":12},{"t":"region","x":144.283,"y":26},{"t":"Distal region","x":145.608,"y":11}]},
   "mark":{"type":"text","fontSize":12,"fontWeight":"bold","color":"#7030a0","baseline":"middle"},
   "encoding":{"x":{"field":"x","type":"quantitative","scale":{"domain":[142.245,148.0357],"nice":false,"zero":false},"axis":null},"y":{"field":"y","type":"quantitative","scale":{"domain":[0,135],"reverse":true,"nice":false,"zero":false},"axis":null},"text":{"field":"t"}}},
  {"data":{"name":"segdup"},"mark":{"type":"rect","fill":"#1a1a1a","stroke":"#000","strokeWidth":0.5},
   "encoding":{"x":{"field":"start","type":"quantitative","scale":{"domain":[142.245,148.0357],"nice":false,"zero":false},"axis":null},"x2":{"field":"end"},"y":{"datum":7,"type":"quantitative","scale":{"domain":[0,135],"reverse":true,"nice":false,"zero":false},"axis":null},"y2":{"datum":19}}},
  {"data":{"name":"genes"},"transform":[{"filter":"datum.start != null && datum.row==='t' && datum.kind==='gene'"}],"mark":{"type":"rect","fill":"#b3292b","stroke":"#e89a9a","strokeWidth":0.8},
   "encoding":{"x":{"field":"start","type":"quantitative","scale":{"domain":[142.245,148.0357],"nice":false,"zero":false},"axis":null},"x2":{"field":"end"},"y":{"datum":70,"type":"quantitative","scale":{"domain":[0,135],"reverse":true,"nice":false,"zero":false},"axis":null},"y2":{"datum":81}}},
  {"data":{"name":"genes"},"transform":[{"filter":"datum.start != null && datum.row==='b' && datum.kind==='gene'"}],"mark":{"type":"rect","fill":"#b3292b","stroke":"#e89a9a","strokeWidth":0.8},
   "encoding":{"x":{"field":"start","type":"quantitative","scale":{"domain":[142.245,148.0357],"nice":false,"zero":false},"axis":null},"x2":{"field":"end"},"y":{"datum":81.5,"type":"quantitative","scale":{"domain":[0,135],"reverse":true,"nice":false,"zero":false},"axis":null},"y2":{"datum":93}}},
  {"data":{"name":"genes"},"transform":[{"filter":"datum.row==='t' && datum.kind==='thin'"}],"mark":{"type":"rect","fill":"#e06060"},
   "encoding":{"x":{"field":"start","type":"quantitative","scale":{"domain":[142.245,148.0357],"nice":false,"zero":false},"axis":null},"x2":{"field":"end"},"y":{"datum":70,"type":"quantitative","scale":{"domain":[0,135],"reverse":true,"nice":false,"zero":false},"axis":null},"y2":{"datum":81}}},
  {"data":{"name":"genes"},"transform":[{"filter":"datum.row==='b' && datum.kind==='thin'"}],"mark":{"type":"rect","fill":"#e06060"},
   "encoding":{"x":{"field":"start","type":"quantitative","scale":{"domain":[142.245,148.0357],"nice":false,"zero":false},"axis":null},"x2":{"field":"end"},"y":{"datum":81.5,"type":"quantitative","scale":{"domain":[0,135],"reverse":true,"nice":false,"zero":false},"axis":null},"y2":{"datum":93}}},
  {"data":{"name":"genes"},"transform":[{"filter":"datum.side==='up'"}],"mark":{"type":"text","angle":270,"align":"left","baseline":"middle","fontSize":7.5,"fontStyle":"italic","fontWeight":"bold","color":"#222"},
   "encoding":{"x":{"field":"lx","type":"quantitative","scale":{"domain":[142.245,148.0357],"nice":false,"zero":false},"axis":null},"y":{"datum":66,"type":"quantitative","scale":{"domain":[0,135],"reverse":true,"nice":false,"zero":false},"axis":null},"text":{"field":"label"}}},
  {"data":{"name":"genes"},"transform":[{"filter":"datum.side==='down'"}],"mark":{"type":"text","angle":270,"align":"right","baseline":"middle","fontSize":7.5,"fontStyle":"italic","fontWeight":"bold","color":"#222"},
   "encoding":{"x":{"field":"lx","type":"quantitative","scale":{"domain":[142.245,148.0357],"nice":false,"zero":false},"axis":null},"y":{"datum":96,"type":"quantitative","scale":{"domain":[0,135],"reverse":true,"nice":false,"zero":false},"axis":null},"text":{"field":"label"}}}
 ]},
{"width":747,"height":70,
 "layer":[
  {"data":{"values":[{"side":"L","x":144.036,"end":"top"},{"side":"L","x":142.4,"end":"bottom"},{"side":"R","x":144.516,"end":"top"},{"side":"R","x":147.94,"end":"bottom"}]},
   "mark":{"type":"line","color":"#8c8c8c","strokeWidth":1},
   "encoding":{"x":{"field":"x","type":"quantitative","scale":{"domain":[142.245,148.0357],"nice":false,"zero":false},"axis":null},"y":{"field":"end","type":"nominal","scale":{"type":"point","domain":["top","bottom"],"padding":0},"axis":null},"detail":{"field":"side"}}},
  {"data":{"values":[{}]},
   "mark":{"type":"text","text":"b","fontSize":18,"fontWeight":"bold","color":"#000","baseline":"middle","dy":-16},
   "encoding":{"x":{"datum":142.3,"type":"quantitative","scale":{"domain":[142.245,148.0357],"nice":false,"zero":false},"axis":null},"y":{"datum":"bottom","type":"nominal","scale":{"type":"point","domain":["top","bottom"],"padding":0},"axis":null}}}
 ]},
{"width":747,"height":73,
 "layer":[
  {"data":{"name":"segs"},"transform":[{"filter":"datum.s==='18'"}],"mark":{"type":"rect","color":"#a6a6d8","opacity":1},
   "encoding":{"x":{"field":"start","type":"quantitative","scale":{"domain":[144.02667,144.52467],"nice":false,"zero":false},"axis":null},"x2":{"field":"end"},"y":{"datum":2,"type":"quantitative","scale":{"domain":[-2,2],"nice":false,"zero":false},"axis":null},"y2":{"datum":-2}}},
  {"data":{"name":"grid"},"transform":[{"filter":"datum.k==='minor'"}],"mark":{"type":"rule","color":"#d4d4d4","strokeWidth":1},
   "encoding":{"x":{"datum":144.0407,"type":"quantitative","scale":{"domain":[144.02667,144.52467],"nice":false,"zero":false},"axis":null},"x2":{"datum":144.5167},"y":{"field":"v","type":"quantitative","scale":{"domain":[-2,2],"nice":false,"zero":false},"axis":null}}},
  {"data":{"name":"grid"},"transform":[{"filter":"datum.k!=='minor'"}],"mark":{"type":"rule","color":"#666666","strokeWidth":1.5},
   "encoding":{"x":{"datum":144.0407,"type":"quantitative","scale":{"domain":[144.02667,144.52467],"nice":false,"zero":false},"axis":null},"x2":{"datum":144.5167},"y":{"field":"v","type":"quantitative","scale":{"domain":[-2,2],"nice":false,"zero":false},"axis":null}}},
  {"data":{"name":"ylabs"},"mark":{"type":"text","align":"right","baseline":"middle","fontSize":6,"color":"#333","dx":-1},
   "encoding":{"x":{"datum":144.0407,"type":"quantitative","scale":{"domain":[144.02667,144.52467],"nice":false,"zero":false},"axis":null},"y":{"field":"v","type":"quantitative","scale":{"domain":[-2,2],"nice":false,"zero":false},"axis":null},"text":{"field":"t"}}},
  {"data":{"name":"pts"},"transform":[{"filter":"datum.s==='18' && datum.c==='n'"}],"mark":{"type":"point","filled":true,"size":7,"color":"#222","opacity":1},
   "encoding":{"x":{"field":"x","type":"quantitative","scale":{"domain":[144.02667,144.52467],"nice":false,"zero":false},"axis":null},"y":{"field":"v","type":"quantitative","scale":{"domain":[-2,2],"nice":false,"zero":false},"axis":null}}},
  {"data":{"name":"pts"},"transform":[{"filter":"datum.s==='18' && datum.c==='a'"}],"mark":{"type":"point","filled":true,"size":7,"color":"#3b4ea3","opacity":1},
   "encoding":{"x":{"field":"x","type":"quantitative","scale":{"domain":[144.02667,144.52467],"nice":false,"zero":false},"axis":null},"y":{"field":"v","type":"quantitative","scale":{"domain":[-2,2],"nice":false,"zero":false},"axis":null}}},
  {"data":{"name":"segs"},"transform":[{"filter":"datum.s==='18'"}],"mark":{"type":"rule","color":"#2a3f91","strokeWidth":1.5},
   "encoding":{"x":{"field":"start","type":"quantitative","scale":{"domain":[144.02667,144.52467],"nice":false,"zero":false},"axis":null},"x2":{"field":"end"},"y":{"field":"mean","type":"quantitative","scale":{"domain":[-2,2],"nice":false,"zero":false},"axis":null}}},
  {"data":{"name":"segs"},"transform":[{"filter":"datum.s==='18'"}],"mark":{"type":"point","shape":"triangle-down","filled":true,"size":45,"color":"#1f3a7a","opacity":1},
   "encoding":{"x":{"field":"tri","type":"quantitative","scale":{"domain":[144.02667,144.52467],"nice":false,"zero":false},"axis":null},"y":{"datum":1.8,"type":"quantitative","scale":{"domain":[-2,2],"nice":false,"zero":false},"axis":null}}},
  {"data":{"values":[{}]},"mark":{"type":"text","text":"Subject 18","align":"left","baseline":"middle","fontSize":14,"fontWeight":"bold","color":"#bdbdbd"},
   "encoding":{"x":{"datum":144.0413,"type":"quantitative","scale":{"domain":[144.02667,144.52467],"nice":false,"zero":false},"axis":null},"y":{"datum":-1.57,"type":"quantitative","scale":{"domain":[-2,2],"nice":false,"zero":false},"axis":null}}}
 ]},
{"width":747,"height":124,
 "layer":[
  {"data":{"values":[{"label":"BP2","start":144.04,"end":144.0973,"mid":144.0687},{"label":"BP3","start":144.4633,"end":144.518,"mid":144.4907}]},
   "layer":[
    {"mark":{"type":"rect","fill":"#f7941d","stroke":"#3a2a10","strokeWidth":1},
     "encoding":{"x":{"field":"start","type":"quantitative","scale":{"domain":[144.02667,144.52467],"nice":false,"zero":false},"axis":null},"x2":{"field":"end"},"y":{"datum":6,"type":"quantitative","scale":{"domain":[0,124],"reverse":true,"nice":false,"zero":false},"axis":null},"y2":{"datum":19}}},
    {"mark":{"type":"text","fontSize":10,"fontWeight":"bold","color":"#3a2508","baseline":"middle"},
     "encoding":{"x":{"field":"mid","type":"quantitative","scale":{"domain":[144.02667,144.52467],"nice":false,"zero":false},"axis":null},"y":{"datum":12.5,"type":"quantitative","scale":{"domain":[0,124],"reverse":true,"nice":false,"zero":false},"axis":null},"text":{"field":"label"}}}
   ]},
  {"data":{"name":"bgenes"},"transform":[{"filter":"datum.row==='t'"}],"mark":{"type":"rect","fill":"#b3292b","stroke":"#e89a9a","strokeWidth":0.8},
   "encoding":{"x":{"field":"start","type":"quantitative","scale":{"domain":[144.02667,144.52467],"nice":false,"zero":false},"axis":null},"x2":{"field":"end"},"y":{"datum":53,"type":"quantitative","scale":{"domain":[0,124],"reverse":true,"nice":false,"zero":false},"axis":null},"y2":{"datum":64}}},
  {"data":{"name":"bgenes"},"transform":[{"filter":"datum.row==='b'"}],"mark":{"type":"rect","fill":"#b3292b","stroke":"#e89a9a","strokeWidth":0.8},
   "encoding":{"x":{"field":"start","type":"quantitative","scale":{"domain":[144.02667,144.52467],"nice":false,"zero":false},"axis":null},"x2":{"field":"end"},"y":{"datum":65,"type":"quantitative","scale":{"domain":[0,124],"reverse":true,"nice":false,"zero":false},"axis":null},"y2":{"datum":77}}},
  {"data":{"name":"bgenes"},"transform":[{"filter":"datum.side==='up'"}],"mark":{"type":"text","angle":270,"align":"left","baseline":"middle","fontSize":7.5,"fontStyle":"italic","fontWeight":"bold","color":"#222"},
   "encoding":{"x":{"field":"lx","type":"quantitative","scale":{"domain":[144.02667,144.52467],"nice":false,"zero":false},"axis":null},"y":{"datum":49,"type":"quantitative","scale":{"domain":[0,124],"reverse":true,"nice":false,"zero":false},"axis":null},"text":{"field":"label"}}},
  {"data":{"name":"bgenes"},"transform":[{"filter":"datum.side==='down' && datum.row==='b'"}],"mark":{"type":"text","angle":270,"align":"right","baseline":"middle","fontSize":7.5,"fontStyle":"italic","fontWeight":"bold","color":"#222"},
   "encoding":{"x":{"field":"lx","type":"quantitative","scale":{"domain":[144.02667,144.52467],"nice":false,"zero":false},"axis":null},"y":{"datum":79,"type":"quantitative","scale":{"domain":[0,124],"reverse":true,"nice":false,"zero":false},"axis":null},"text":{"field":"label"}}},
  {"data":{"name":"bgenes"},"transform":[{"filter":"datum.side==='down' && datum.row==='t'"}],"mark":{"type":"text","angle":270,"align":"right","baseline":"middle","fontSize":7.5,"fontStyle":"italic","fontWeight":"bold","color":"#222"},
   "encoding":{"x":{"field":"lx","type":"quantitative","scale":{"domain":[144.02667,144.52467],"nice":false,"zero":false},"axis":null},"y":{"datum":68,"type":"quantitative","scale":{"domain":[0,124],"reverse":true,"nice":false,"zero":false},"axis":null},"text":{"field":"label"}}}
 ]}
]
}
